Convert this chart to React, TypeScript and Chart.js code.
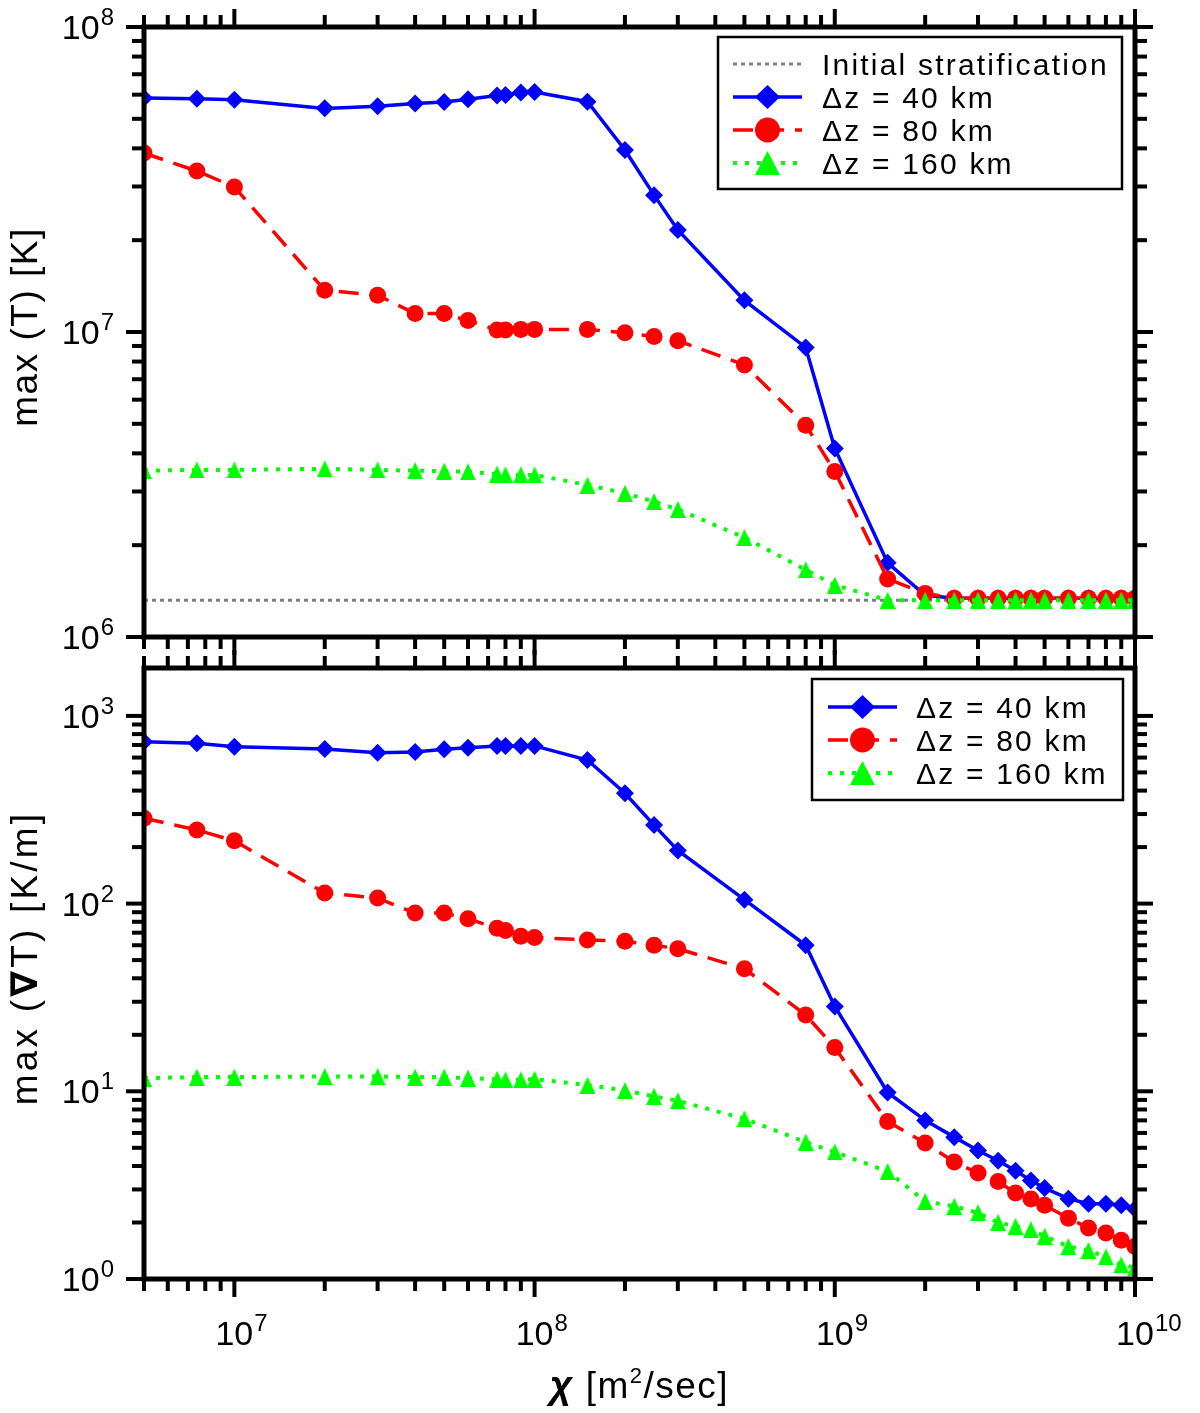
import React, { useEffect, useRef } from 'react';
import { Chart, registerables } from 'chart.js';

Chart.register(...registerables);

// ---------------- data ----------------
const chi = [
  5e6, 7.5e6, 1e7, 2e7, 3e7, 4e7, 5e7, 6e7, 7.5e7, 8e7, 9e7, 1e8,
  1.5e8, 2e8, 2.5e8, 3e8, 5e8, 8e8, 1e9, 1.5e9, 2e9,
  2.5e9, 3e9, 3.5e9, 4e9, 4.5e9, 5e9, 6e9, 7e9, 8e9, 9e9, 1e10,
];

const topDz40 = [
  5.85e7, 5.82e7, 5.77e7, 5.41e7, 5.5e7, 5.61e7, 5.68e7, 5.8e7, 5.96e7, 5.98e7, 6.1e7, 6.12e7,
  5.69e7, 3.95e7, 2.81e7, 2.16e7, 1.27e7, 8.9e6, 4.15e6, 1.75e6, 1.37e6,
  1.34e6, 1.34e6, 1.34e6, 1.34e6, 1.34e6, 1.34e6, 1.34e6, 1.34e6, 1.34e6, 1.34e6, 1.34e6,
];
const topDz80 = [
  3.86e7, 3.37e7, 2.99e7, 1.37e7, 1.32e7, 1.15e7, 1.15e7, 1.09e7, 1.016e7, 1.016e7, 1.02e7, 1.02e7,
  1.02e7, 9.95e6, 9.66e6, 9.36e6, 7.8e6, 4.95e6, 3.49e6, 1.55e6, 1.39e6,
  1.34e6, 1.34e6, 1.34e6, 1.34e6, 1.34e6, 1.34e6, 1.34e6, 1.34e6, 1.34e6, 1.34e6, 1.34e6,
];
const topDz160 = [
  3.51e6, 3.53e6, 3.53e6, 3.56e6, 3.53e6, 3.51e6, 3.5e6, 3.48e6, 3.42e6, 3.4e6, 3.4e6, 3.4e6,
  3.15e6, 2.96e6, 2.78e6, 2.62e6, 2.12e6, 1.66e6, 1.48e6, 1.32e6, 1.32e6,
  1.32e6, 1.32e6, 1.32e6, 1.32e6, 1.32e6, 1.32e6, 1.32e6, 1.32e6, 1.32e6, 1.32e6, 1.32e6,
];
const initialChi = [5e6, 1e10];
const initialT = [1.32e6, 1.32e6];

const botDz40 = [
  729, 715, 685, 667, 637, 642, 664, 677, 692, 692, 691, 692,
  582, 387, 262, 192, 105, 60, 28.3, 9.86, 7.0,
  5.7, 4.84, 4.27, 3.77, 3.35, 3.05, 2.68, 2.52, 2.52, 2.47, 2.36,
];
const botDz80 = [
  285, 247, 216, 114, 107, 89, 89, 83, 74, 72, 67, 66,
  64, 63, 60, 57.5, 45, 25.5, 17.1, 6.9, 5.3,
  4.2, 3.67, 3.31, 2.87, 2.67, 2.47, 2.11, 1.87, 1.76, 1.61, 1.49,
];
const botDz160 = [
  11.75, 11.9, 11.9, 12.0, 12.0, 11.9, 11.9, 11.75, 11.6, 11.5, 11.5, 11.6,
  10.8, 10.1, 9.4, 8.9, 7.14, 5.36, 4.75, 3.74, 2.59,
  2.44, 2.25, 2.0, 1.91, 1.83, 1.69, 1.49, 1.42, 1.31, 1.19, 1.15,
];

const xLabelValues = [1e7, 1e8, 1e9, 1e10];
const xLabelExps = ['7', '8', '9', '10'];
const topYLabelValues = [1e6, 1e7, 1e8];
const topYLabelExps = ['6', '7', '8'];
const botYLabelValues = [1, 10, 100, 1000];
const botYLabelExps = ['0', '1', '2', '3'];

const labelInit = 'Initial stratification';
const label40 = 'Δz = 40 km';
const label80 = 'Δz = 80 km';
const label160 = 'Δz = 160 km';

// ---------------- styles ----------------
const FONT = '"Liberation Sans", Arial, Helvetica, sans-serif';
const BLUE = '#0000ff';
const RED = '#ff0000';
const GREEN = '#00ff00';
const GRAY = '#808080';

const S40 = { color: BLUE, dash: [] as number[], width: 3.5, marker: 'diamond' };
const S80 = { color: RED, dash: [20, 11], width: 3.5, marker: 'circle' };
const S160 = { color: GREEN, dash: [4, 8], width: 4, marker: 'triangle' };
const SINIT = { color: GRAY, dash: [4, 4], width: 3, marker: 'none' };

function makeTriangle(w: number, h: number, color: string) {
  const c = document.createElement('canvas');
  c.width = w;
  c.height = h;
  const g = c.getContext('2d')!;
  g.fillStyle = color;
  g.beginPath();
  g.moveTo(w / 2, 0);
  g.lineTo(w, h);
  g.lineTo(0, h);
  g.closePath();
  g.fill();
  return c;
}

function pts(xs: number[], ys: number[]) {
  return xs.map((x, i) => ({ x, y: ys[i] }));
}

function logTicks(min: number, max: number) {
  const out: { v: number; major: boolean }[] = [];
  const e0 = Math.floor(Math.log10(min));
  const e1 = Math.ceil(Math.log10(max));
  for (let e = e0; e <= e1; e++) {
    for (let m = 1; m <= 9; m++) {
      const v = m * Math.pow(10, e);
      if (v >= min * 0.999 && v <= max * 1.001) out.push({ v, major: m === 1 });
    }
  }
  return out;
}

function setLS(ctx: CanvasRenderingContext2D, v: string) {
  (ctx as any).letterSpacing = v;
}

function drawPow(ctx: CanvasRenderingContext2D, x: number, baseline: number, exp: string, align: 'center' | 'right') {
  setLS(ctx, '0px');
  ctx.textAlign = 'left';
  ctx.textBaseline = 'alphabetic';
  ctx.fillStyle = '#000';
  ctx.font = `34px ${FONT}`;
  const bw = ctx.measureText('10').width;
  ctx.font = `24px ${FONT}`;
  const ew = ctx.measureText(exp).width;
  const bx = align === 'center' ? x - bw / 2 : x - bw - 1 - ew;
  ctx.font = `34px ${FONT}`;
  ctx.fillText('10', bx, baseline);
  ctx.font = `24px ${FONT}`;
  ctx.fillText(exp, bx + bw + 1, baseline - 14);
}

function drawMarker(ctx: CanvasRenderingContext2D, kind: string, x: number, y: number, color: string) {
  ctx.fillStyle = color;
  ctx.setLineDash([]);
  ctx.beginPath();
  if (kind === 'diamond') {
    ctx.moveTo(x, y - 12);
    ctx.lineTo(x + 12.5, y);
    ctx.lineTo(x, y + 12);
    ctx.lineTo(x - 12.5, y);
    ctx.closePath();
  } else if (kind === 'circle') {
    ctx.arc(x, y, 12.5, 0, Math.PI * 2);
  } else if (kind === 'triangle') {
    ctx.moveTo(x, y - 12);
    ctx.lineTo(x + 12.5, y + 12);
    ctx.lineTo(x - 12.5, y + 12);
    ctx.closePath();
  } else {
    return;
  }
  ctx.fill();
}

type LegendEntry = { label: string; style: { color: string; dash: number[]; width: number; marker: string } };
type PanelCfg = {
  id: string;
  xLabels: boolean;
  yVals: number[];
  yExps: string[];
  legendBox: [number, number, number, number];
  legendRows: number[];
  legendLine: [number, number];
  legendTextX: number;
  entries: LegendEntry[];
  drawTitles: (ctx: CanvasRenderingContext2D) => void;
};

function panelPlugin(cfg: PanelCfg) {
  return {
    id: 'panel' + cfg.id,
    afterDraw(chart: any) {
      const ctx: CanvasRenderingContext2D = chart.ctx;
      const { left, right, top, bottom } = chart.chartArea;
      const xs = chart.scales.x;
      const ys = chart.scales.y;
      ctx.save();
      ctx.strokeStyle = '#000';
      ctx.lineCap = 'butt';
      ctx.setLineDash([]);
      const seg = (x0: number, y0: number, x1: number, y1: number) => {
        ctx.beginPath();
        ctx.moveTo(x0, y0);
        ctx.lineTo(x1, y1);
        ctx.stroke();
      };
      // ticks
      ctx.lineWidth = 4;
      for (const t of logTicks(xs.min, xs.max)) {
        const px = xs.getPixelForValue(t.v);
        const len = t.major ? 18 : 12;
        seg(px, top, px, top - len);
        seg(px, bottom, px, bottom + len);
      }
      for (const t of logTicks(ys.min, ys.max)) {
        const py = ys.getPixelForValue(t.v);
        const len = t.major ? 18 : 12;
        seg(left, py, left - len, py);
        seg(right, py, right + len, py);
      }
      // frame
      ctx.lineWidth = 5;
      ctx.strokeRect(left, top, right - left, bottom - top);

      // tick labels
      cfg.yVals.forEach((v, i) => {
        const py = ys.getPixelForValue(v);
        drawPow(ctx, 114, py + 12, cfg.yExps[i], 'right');
      });
      if (cfg.xLabels) {
        xLabelValues.forEach((v, i) => {
          const px = xs.getPixelForValue(v);
          drawPow(ctx, px, bottom + 66, xLabelExps[i], 'center');
        });
      }

      // legend
      const [bx0, by0, bx1, by1] = cfg.legendBox;
      ctx.fillStyle = '#fff';
      ctx.fillRect(bx0, by0, bx1 - bx0, by1 - by0);
      ctx.lineWidth = 2.5;
      ctx.strokeStyle = '#000';
      ctx.strokeRect(bx0, by0, bx1 - bx0, by1 - by0);
      cfg.entries.forEach((en, i) => {
        const y = cfg.legendRows[i];
        const [lx0, lx1] = cfg.legendLine;
        ctx.strokeStyle = en.style.color;
        ctx.lineWidth = en.style.width;
        ctx.setLineDash(en.style.dash);
        seg(lx0, y, lx1, y);
        ctx.setLineDash([]);
        drawMarker(ctx, en.style.marker, (lx0 + lx1) / 2, y, en.style.color);
        ctx.fillStyle = '#000';
        ctx.font = `30px ${FONT}`;
        setLS(ctx, '2.2px');
        ctx.textAlign = 'left';
        ctx.textBaseline = 'alphabetic';
        ctx.fillText(en.label, cfg.legendTextX, y + 11);
      });
      setLS(ctx, '0px');

      cfg.drawTitles(ctx);
      ctx.restore();
    },
  };
}

function drawPieces(ctx: CanvasRenderingContext2D, pieces: { t: string; font: string; dy?: number }[], cx: number, baseline: number) {
  let total = 0;
  const widths = pieces.map((p) => {
    ctx.font = p.font;
    const w = ctx.measureText(p.t).width;
    total += w;
    return w;
  });
  let x = cx - total / 2;
  ctx.textAlign = 'left';
  ctx.textBaseline = 'alphabetic';
  ctx.fillStyle = '#000';
  pieces.forEach((p, i) => {
    ctx.font = p.font;
    ctx.fillText(p.t, x, baseline + (p.dy || 0));
    x += widths[i];
  });
}

function topTitles(ctx: CanvasRenderingContext2D) {
  ctx.save();
  setLS(ctx, '1.5px');
  ctx.translate(37, 327);
  ctx.rotate(-Math.PI / 2);
  drawPieces(ctx, [{ t: 'max (T) [K]', font: `37px ${FONT}` }], 0, 0);
  ctx.restore();
}

function bottomTitles(ctx: CanvasRenderingContext2D) {
  ctx.save();
  setLS(ctx, '3.2px');
  ctx.translate(37, 958);
  ctx.rotate(-Math.PI / 2);
  drawPieces(
    ctx,
    [
      { t: 'max (', font: `37px ${FONT}` },
      { t: '∇', font: `bold 37px "DejaVu Sans", ${FONT}` },
      { t: 'T) [K/m]', font: `37px ${FONT}` },
    ],
    0,
    0,
  );
  ctx.restore();
  ctx.save();
  setLS(ctx, '1.5px');
  drawPieces(
    ctx,
    [
      { t: 'χ', font: `italic bold 39px ${FONT}` },
      { t: ' [m', font: `37px ${FONT}` },
      { t: '2', font: `22px ${FONT}`, dy: -15 },
      { t: '/sec]', font: `37px ${FONT}` },
    ],
    639.5,
    1398,
  );
  ctx.restore();
}

function seriesDatasets(v40: number[], v80: number[], v160: number[], tri: HTMLCanvasElement) {
  return [
    {
      label: label160,
      data: pts(chi, v160),
      borderColor: S160.color,
      backgroundColor: S160.color,
      borderWidth: S160.width,
      borderDash: S160.dash,
      pointStyle: tri as any,
      pointRadius: 8,
      clip: 0,
    },
    {
      label: label80,
      data: pts(chi, v80),
      borderColor: S80.color,
      backgroundColor: S80.color,
      borderWidth: S80.width,
      borderDash: S80.dash,
      pointStyle: 'circle',
      pointRadius: 8.5,
      pointBorderWidth: 0,
      clip: 0,
    },
    {
      label: label40,
      data: pts(chi, v40),
      borderColor: S40.color,
      backgroundColor: S40.color,
      borderWidth: S40.width,
      pointStyle: 'rectRot',
      pointRadius: 9,
      pointBorderWidth: 0,
      clip: 0,
    },
  ];
}

const W = 1200;
const H = 1413;

export default function App() {
  const topRef = useRef<HTMLCanvasElement>(null);
  const botRef = useRef<HTMLCanvasElement>(null);

  useEffect(() => {
    document.body.style.margin = '0';
    const tri = makeTriangle(16, 17, GREEN);
    const common = (padding: any) => ({
      responsive: false,
      maintainAspectRatio: false,
      animation: false as const,
      events: [] as any[],
      layout: { padding },
      plugins: { legend: { display: false }, tooltip: { enabled: false }, title: { display: false } },
    });

    const top = new Chart(topRef.current!, {
      type: 'line',
      data: {
        datasets: [
          ...seriesDatasets(topDz40, topDz80, topDz160, tri),
          {
            label: labelInit,
            data: pts(initialChi, initialT),
            borderColor: SINIT.color,
            borderWidth: SINIT.width,
            borderDash: SINIT.dash,
            pointRadius: 0,
            clip: 0,
          },
        ] as any,
      },
      options: {
        ...common({ left: 144, right: 65, top: 27, bottom: H - 637 }),
        scales: {
          x: { type: 'logarithmic', min: 5e6, max: 1e10, display: false },
          y: { type: 'logarithmic', min: 1e6, max: 1e8, display: false },
        },
      } as any,
      plugins: [
        panelPlugin({
          id: 'top',
          xLabels: false,
          yVals: topYLabelValues,
          yExps: topYLabelExps,
          legendBox: [718, 37, 1122, 189],
          legendRows: [64, 97, 130, 163],
          legendLine: [733, 802],
          legendTextX: 822,
          entries: [
            { label: labelInit, style: SINIT },
            { label: label40, style: S40 },
            { label: label80, style: S80 },
            { label: label160, style: S160 },
          ],
          drawTitles: topTitles,
        }),
      ],
    });

    const bot = new Chart(botRef.current!, {
      type: 'line',
      data: { datasets: seriesDatasets(botDz40, botDz80, botDz160, tri) as any },
      options: {
        ...common({ left: 144, right: 65, top: 668, bottom: H - 1279 }),
        scales: {
          x: { type: 'logarithmic', min: 5e6, max: 1e10, display: false },
          y: { type: 'logarithmic', min: 1, max: 1.8e3, display: false },
        },
      } as any,
      plugins: [
        panelPlugin({
          id: 'bot',
          xLabels: true,
          yVals: botYLabelValues,
          yExps: botYLabelExps,
          legendBox: [812, 679, 1123, 800],
          legendRows: [707, 740, 773],
          legendLine: [828, 897],
          legendTextX: 916,
          entries: [
            { label: label40, style: S40 },
            { label: label80, style: S80 },
            { label: label160, style: S160 },
          ],
          drawTitles: bottomTitles,
        }),
      ],
    });

    return () => {
      top.destroy();
      bot.destroy();
    };
  }, []);

  const cstyle: React.CSSProperties = { position: 'absolute', left: 0, top: 0, width: W, height: H };
  return (
    <div style={{ position: 'relative', width: W, height: H, background: '#fff' }}>
      <canvas ref={topRef} width={W} height={H} style={cstyle} />
      <canvas ref={botRef} width={W} height={H} style={cstyle} />
    </div>
  );
}
